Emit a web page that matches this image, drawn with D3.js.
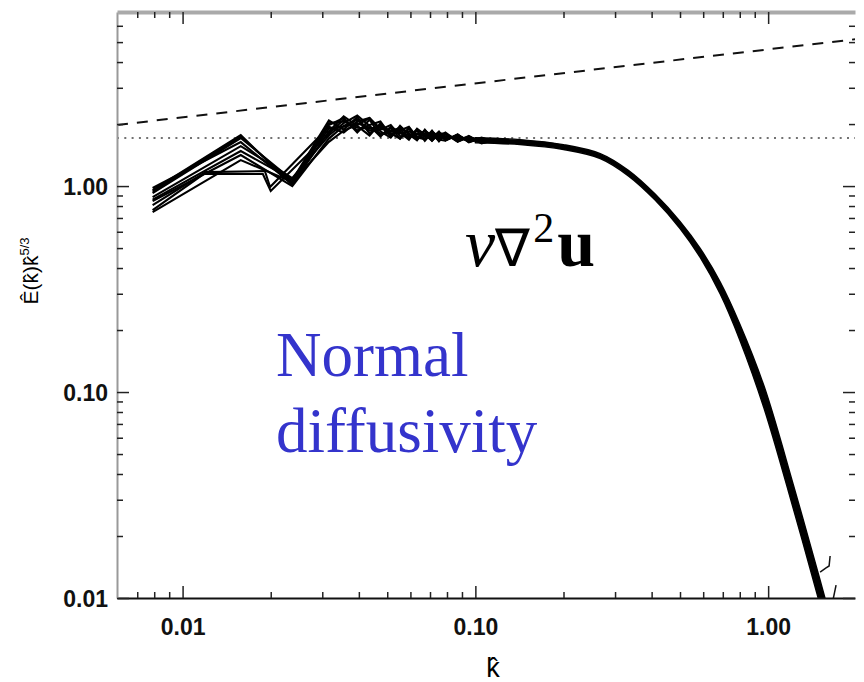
<!DOCTYPE html>
<html>
<head>
<meta charset="utf-8">
<script src="https://cdn.jsdelivr.net/npm/d3@7"></script>
<style>
  body { margin: 0; background: #fff; }
  svg { display: block; }
  .tick line { stroke: #222; stroke-width: 1.5; }
</style>
</head>
<body>
<svg width="864" height="682"></svg>
<script>
// tick values
var xMajor = [0.01, 0.1, 1];
var xMinor = [0.007, 0.008, 0.009, 0.02, 0.03, 0.04, 0.05, 0.06, 0.07, 0.08, 0.09,
              0.2, 0.3, 0.4, 0.5, 0.6, 0.7, 0.8, 0.9];
var yMajor = [0.01, 0.1, 1];
var yMinor = [0.02, 0.03, 0.04, 0.05, 0.06, 0.07, 0.08, 0.09,
              0.2, 0.3, 0.4, 0.5, 0.6, 0.7, 0.8, 0.9, 2, 3, 4, 5, 6];

// low-k part of each run (k-hat, compensated spectrum)
var lowK = [
  [0.0079, 0.0158, 0.0237],
  [0.0079, 0.0158, 0.0237],
  [0.0079, 0.0158, 0.0237],
  [0.0079, 0.0158, 0.0237],
  [0.0079, 0.0120, 0.0191, 0.0199],
  [0.0079, 0.0118, 0.0188, 0.0200],
  [0.0079, 0.0158, 0.0237],
  [0.0079, 0.0158, 0.0237],
  [0.0079, 0.0158, 0.0237],
  [0.0079, 0.0158, 0.0237]
];
var lowE = [
  [0.956, 1.769, 1.011],
  [0.925, 1.711, 1.069],
  [0.978, 1.635, 1.022],
  [0.884, 1.563, 1.094],
  [0.809, 1.169, 1.183, 0.989],
  [0.765, 1.144, 1.144, 0.946],
  [0.846, 1.414, 1.000],
  [0.748, 1.337, 1.046],
  [0.940, 1.740, 1.040],
  [0.860, 1.480, 1.075]
];

// inertial range, shared k-hat
var midK = [0.0316, 0.0355, 0.0395, 0.0435, 0.0474, 0.0514, 0.0553, 0.0593, 0.0632, 0.0672,
            0.0711, 0.0751, 0.079, 0.087, 0.095, 0.105, 0.12, 0.14, 0.16];
var midE = [
  [1.98, 2.14, 1.82, 2.10, 1.76, 1.92, 1.70, 1.90, 1.68, 1.86, 1.66, 1.80, 1.67, 1.77, 1.64, 1.72, 1.62, 1.66, 1.60],
  [2.08, 1.88, 2.16, 1.80, 1.98, 1.74, 1.90, 1.70, 1.86, 1.66, 1.82, 1.65, 1.79, 1.64, 1.74, 1.61, 1.69, 1.61, 1.61],
  [1.84, 2.18, 1.96, 1.76, 2.02, 1.80, 1.70, 1.92, 1.74, 1.70, 1.86, 1.68, 1.66, 1.78, 1.63, 1.71, 1.62, 1.65, 1.60],
  [1.76, 2.02, 2.20, 1.96, 1.74, 1.94, 1.82, 1.68, 1.90, 1.78, 1.66, 1.80, 1.80, 1.65, 1.75, 1.62, 1.68, 1.62, 1.59],
  [1.94, 1.82, 2.06, 2.14, 1.84, 1.72, 1.96, 1.78, 1.67, 1.88, 1.71, 1.84, 1.67, 1.78, 1.64, 1.70, 1.66, 1.63, 1.60],
  [1.80, 2.10, 1.86, 1.98, 2.06, 1.76, 1.86, 1.94, 1.72, 1.69, 1.84, 1.74, 1.82, 1.65, 1.72, 1.66, 1.63, 1.62, 1.61],
  [1.70, 1.96, 2.10, 1.86, 1.88, 1.98, 1.75, 1.74, 1.88, 1.76, 1.68, 1.82, 1.69, 1.75, 1.68, 1.64, 1.67, 1.63, 1.60],
  [1.64, 1.86, 1.98, 2.14, 1.90, 1.84, 1.92, 1.80, 1.71, 1.86, 1.76, 1.67, 1.78, 1.69, 1.73, 1.66, 1.64, 1.62, 1.59],
  [2.02, 2.06, 1.92, 1.90, 1.94, 1.86, 1.80, 1.84, 1.78, 1.80, 1.74, 1.76, 1.72, 1.71, 1.70, 1.68, 1.65, 1.63, 1.60],
  [1.90, 1.94, 2.02, 1.92, 1.80, 1.80, 1.84, 1.76, 1.80, 1.74, 1.78, 1.71, 1.74, 1.72, 1.66, 1.69, 1.64, 1.62, 1.60]
];

// dissipation range, where all runs overlap (upper / lower edge of the bundle)
var tailK  = [0.10, 0.142, 0.20, 0.267, 0.333, 0.411, 0.50, 0.586, 0.686, 0.80, 0.97, 1.22, 1.50, 1.62];
var tailHi = [1.717, 1.681, 1.589, 1.437, 1.192, 0.914, 0.673, 0.498, 0.342, 0.214, 0.106, 0.0353, 0.0124, 0.0083];
var tailLo = [1.624, 1.590, 1.504, 1.360, 1.121, 0.855, 0.622, 0.450, 0.299, 0.179, 0.0827, 0.0270, 0.0094, 0.0062];

// small wiggles at the highest k
var hookK  = [1.505, 1.577, 1.615, 1.628];
var hookE  = [0.01337, 0.0140, 0.0143, 0.0160];
var hook2K = [1.666, 1.706];
var hook2E = [0.0098, 0.01156];

// reference lines
var dashK = [0.00597, 1.98];
var dashE = [1.98, 5.16];
var dotK  = [0.00597, 1.98];
var dotE  = [1.71, 1.71];

var svg = d3.select("svg"),
    margin = {top: 12, right: 9, bottom: 84, left: 117},
    width = 864 - margin.left - margin.right,
    height = 682 - margin.top - margin.bottom,
    g = svg.append("g").attr("transform", "translate(" + margin.left + "," + margin.top + ")");

var x = d3.scaleLog().domain([0.00597, 1.98]).range([0, width]);
var y = d3.scaleLog().domain([0.01, 7]).range([height, 0]);

var fmt = d3.format(".2f");
var sans = "'Liberation Sans', Arial, Helvetica, sans-serif";
var serif = "'Liberation Serif', 'Times New Roman', serif";

g.append("clipPath").attr("id", "clip")
  .append("rect").attr("width", width).attr("height", height);

function pairs(ks, es) {
  return ks.map(function(k, i) { return [k, es[i]]; });
}

var line = d3.line()
    .x(function(d) { return x(d[0]); })
    .y(function(d) { return y(d[1]); });

var plot = g.append("g").attr("clip-path", "url(#clip)");

// reference slopes
plot.append("path")
    .datum(pairs(dashK, dashE))
    .attr("fill", "none")
    .attr("stroke", "#111")
    .attr("stroke-width", 2)
    .attr("stroke-dasharray", "11,9")
    .attr("d", line);

plot.append("path")
    .datum(pairs(dotK, dotE))
    .attr("fill", "none")
    .attr("stroke", "#444")
    .attr("stroke-width", 1.6)
    .attr("stroke-dasharray", "2,5.3")
    .attr("d", line);

// runs
lowK.forEach(function(ks, i) {
  var pts = pairs(ks, lowE[i]).concat(pairs(midK, midE[i]));
  plot.append("path")
      .datum(pts)
      .attr("fill", "none")
      .attr("stroke", "#000")
      .attr("stroke-width", 2.1)
      .attr("d", line);
});

var band = d3.area()
    .x(function(d) { return x(d[0]); })
    .y0(function(d) { return y(d[2]); })
    .y1(function(d) { return y(d[1]); })
    .curve(d3.curveCatmullRom);

plot.append("path")
    .datum(tailK.map(function(k, i) { return [k, tailHi[i], tailLo[i]]; }))
    .attr("fill", "#000")
    .attr("stroke", "#000")
    .attr("stroke-width", 1.4)
    .attr("d", band);

[pairs(hookK, hookE), pairs(hook2K, hook2E)].forEach(function(h) {
  plot.append("path")
      .datum(h)
      .attr("fill", "none")
      .attr("stroke", "#111")
      .attr("stroke-width", 1.5)
      .attr("d", line);
});

// axes: ticks point inward on all four sides
function majMin(axisFn, scale, major, minor, labels) {
  var a = axisFn(scale).tickValues(major).tickSizeInner(-12).tickSizeOuter(0)
      .tickFormat(labels ? fmt : function() { return ""; });
  var b = axisFn(scale).tickValues(minor).tickSizeInner(-6).tickSizeOuter(0)
      .tickFormat(function() { return ""; });
  return [a, b];
}

var axB = majMin(d3.axisBottom, x, xMajor, xMinor, true);
var gb = g.append("g").attr("transform", "translate(0," + height + ")");
gb.append("g").call(axB[1]);
gb.append("g").call(axB[0].tickPadding(21));

var axL = majMin(d3.axisLeft, y, yMajor, yMinor, true);
var gl = g.append("g");
gl.append("g").call(axL[1]);
gl.append("g").call(axL[0].tickPadding(9));

var axT = majMin(d3.axisTop, x, xMajor, xMinor, false);
var gt = g.append("g");
gt.append("g").call(axT[1]);
gt.append("g").call(axT[0]);

var axR = majMin(d3.axisRight, y, yMajor, yMinor, false);
var gr = g.append("g").attr("transform", "translate(" + width + ",0)");
gr.append("g").call(axR[1]);
gr.append("g").call(axR[0]);

g.selectAll(".domain").attr("stroke", "none");
gb.select(".domain").attr("stroke", "#111").attr("stroke-width", 2);
gl.select(".domain").attr("stroke", "#999").attr("stroke-width", 2);
gt.select(".domain").attr("stroke", "#aaa").attr("stroke-width", 4);
g.selectAll(".tick text")
    .style("font-family", sans)
    .style("font-weight", "bold")
    .style("font-size", "23px")
    .attr("fill", "#111");
gl.selectAll("text").attr("dy", "0.36em");

// axis titles
svg.append("text")
    .attr("x", 493)
    .attr("y", 677)
    .attr("text-anchor", "middle")
    .style("font-family", sans)
    .style("font-size", "27px")
    .text("k\u0302");

var yt = svg.append("text")
    .attr("transform", "translate(38,271) rotate(-90)")
    .attr("text-anchor", "middle")
    .style("font-family", sans)
    .style("font-size", "21px");
yt.append("tspan").text("\u00CA(k\u0302)k\u0302");
yt.append("tspan").attr("dy", "-9").style("font-size", "13px").text("5/3");

// annotations
var eq = svg.append("text")
    .attr("x", 465)
    .attr("y", 266)
    .style("font-family", serif)
    .attr("fill", "#000");
eq.append("tspan").style("font-style", "italic").style("font-size", "68px").text("\u03BD");
eq.append("tspan").style("font-size", "52px").text("\u2207");
eq.append("tspan").attr("dy", "-24").attr("dx", "3").style("font-size", "42px").text("2");
eq.append("tspan").attr("dy", "24").attr("dx", "3").style("font-weight", "bold").style("font-size", "68px").text("u");

var note = svg.append("text")
    .style("font-family", serif)
    .style("font-size", "63px")
    .attr("fill", "#3434cc");
note.append("tspan").attr("x", 276).attr("y", 376).text("Normal");
note.append("tspan").attr("x", 276).attr("y", 452).text("diffusivity");
</script>
</body>
</html>
